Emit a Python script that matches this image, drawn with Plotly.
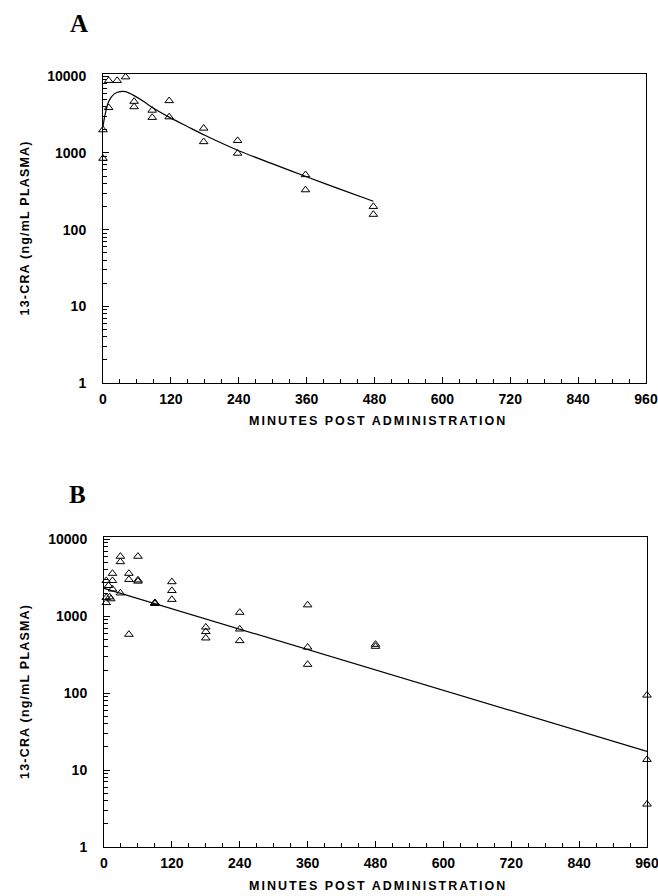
import plotly.graph_objects as go

# ---------------- Panel A data ----------------
a_time = [0, 0, 10, 10, 25, 40, 55, 55, 87, 87, 117, 117, 178, 178, 238, 238, 358, 358, 478, 478]
a_conc = [850, 2000, 8800, 3900, 8800, 9800, 4700, 4000, 3600, 2900, 4800, 2950,
          2100, 1400, 1450, 990, 520, 330, 200, 158]
a_fit_time = [0, 3, 10, 20, 30, 40, 55, 70, 90, 120, 150, 180, 240, 300, 360, 420, 478]
a_fit_conc = [2200, 3000, 4700, 5900, 6300, 6300, 5600, 4800, 3800, 2850, 2200, 1700,
              1070, 720, 490, 335, 235]

# ---------------- Panel B data ----------------
b_time = [4, 4, 4, 8, 10, 12, 15, 15, 15, 29, 29, 29, 44, 44, 44, 60, 60, 60,
          90, 90, 90, 120, 120, 120, 180, 180, 180, 240, 240, 240,
          360, 360, 360, 480, 480, 960, 960, 960]
b_conc = [2900, 1750, 1500, 2500, 1780, 1680, 3600, 2900, 2250, 6000, 5100, 2000,
          3600, 3000, 580, 6000, 2950, 2850, 1500, 1460, 1480, 2800, 2150, 1650,
          720, 630, 520, 1120, 680, 480, 1400, 395, 236, 430, 405, 94, 13.7, 3.6]
b_fit_time = [0, 960]
b_fit_conc = [2300, 17.5]

x_ticks = [0, 120, 240, 360, 480, 600, 720, 840, 960]
x_minor = [30, 60, 90, 150, 180, 210, 270, 300, 330, 390, 420, 450, 510, 540, 570,
           630, 660, 690, 750, 780, 810, 870, 900, 930]
y_ticks = [1, 10, 100, 1000, 10000]
y_minor = [2, 3, 4, 5, 6, 7, 8, 9, 20, 30, 40, 50, 60, 70, 80, 90,
           200, 300, 400, 500, 600, 700, 800, 900, 2000, 3000, 4000, 5000, 6000, 7000, 8000, 9000]

W, H = 658, 896
def px_x(p): return p / W
def px_y(p): return 1 - p / H

fig = go.Figure()
marker = dict(symbol="triangle-up-open", size=7.5, color="black", line=dict(width=1, color="black"))

fig.add_trace(go.Scatter(x=a_time, y=a_conc, mode="markers", marker=marker,
                         cliponaxis=False, xaxis="x", yaxis="y", showlegend=False))
fig.add_trace(go.Scatter(x=a_fit_time, y=a_fit_conc, mode="lines", line=dict(color="black", width=1.2),
                         line_shape="spline", line_smoothing=0.6, xaxis="x", yaxis="y", showlegend=False))
fig.add_trace(go.Scatter(x=b_time, y=b_conc, mode="markers", marker=marker,
                         cliponaxis=False, xaxis="x2", yaxis="y2", showlegend=False))
fig.add_trace(go.Scatter(x=b_fit_time, y=b_fit_conc, mode="lines", line=dict(color="black", width=1.2),
                         xaxis="x2", yaxis="y2", showlegend=False))

tickfont = dict(family="Liberation Sans", size=14, color="black", weight="bold")

def xaxis(domain, anchor):
    return dict(domain=domain, anchor=anchor, range=[0, 960], tickvals=x_ticks,
                ticks="inside", ticklen=6, tickwidth=1, tickcolor="black",
                minor=dict(ticks="inside", tickvals=x_minor, ticklen=4, tickcolor="black", showgrid=False),
                showline=True, linecolor="black", linewidth=1, mirror=True, automargin=False,
                ticklabeloverflow="allow",
                showgrid=False, zeroline=False, tickfont=tickfont, ticklabelstandoff=3)

def yaxis(domain, anchor):
    return dict(domain=domain, anchor=anchor, type="log", range=[0, 4.03], tickvals=y_ticks,
                ticktext=[str(v) for v in y_ticks],
                ticks="inside", ticklen=6, tickwidth=1, tickcolor="black",
                minor=dict(ticks="inside", tickvals=y_minor, ticklen=4, tickcolor="black", showgrid=False),
                showline=True, linecolor="black", linewidth=1, mirror=True, automargin=False,
                showgrid=False, zeroline=False, tickfont=tickfont, ticklabelstandoff=13)

fig.update_layout(
    width=W, height=H, margin=dict(l=0, r=0, t=0, b=0, autoexpand=False),
    paper_bgcolor="white", plot_bgcolor="white",
    xaxis=xaxis([px_x(103), px_x(646)], "y"),
    yaxis=yaxis([px_y(383), px_y(74)], "x"),
    xaxis2=xaxis([px_x(104), px_x(647)], "y2"),
    yaxis2=yaxis([px_y(847), px_y(537)], "x2"),
)

ytitle = '<span style="letter-spacing:1.2px">13-CRA (ng/mL PLASMA)</span>'
xtitle = '<span style="letter-spacing:2px">MINUTES POST ADMINISTRATION</span>'
titlefont = dict(family="Liberation Sans", size=12.5, color="black", weight="bold")
letterfont = dict(family="Liberation Serif", size=25, color="black", weight="bold")

annots = [
    dict(text="A", x=px_x(79), y=px_y(23), font=letterfont),
    dict(text="B", x=px_x(77), y=px_y(495), font=letterfont),
    dict(text=ytitle, x=px_x(25), y=px_y(228.5), textangle=-90, font=titlefont),
    dict(text=ytitle, x=px_x(25), y=px_y(692), textangle=-90, font=titlefont),
    dict(text=xtitle, x=px_x(378), y=px_y(421), font=titlefont),
    dict(text=xtitle, x=px_x(378), y=px_y(886), font=titlefont),
]
for a in annots:
    fig.add_annotation(xref="paper", yref="paper", xanchor="center", yanchor="middle",
                       showarrow=False, **a)

fig.write_html("out.html", config={"displayModeBar": False},
               post_script="document.body.style.margin='0';document.body.style.overflow='hidden';")
